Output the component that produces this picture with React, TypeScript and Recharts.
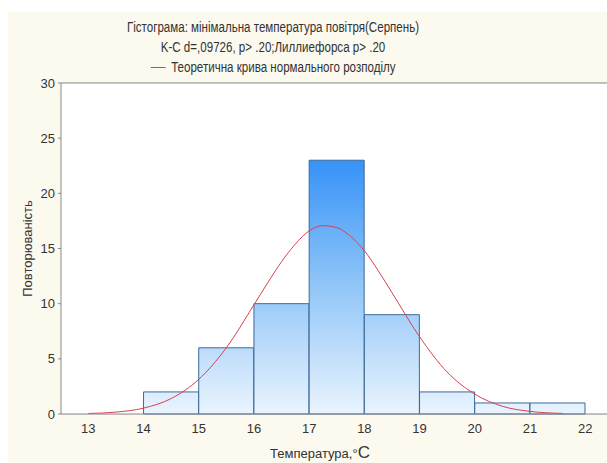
import React from 'react';
import {
  ComposedChart,
  Bar,
  Line,
  XAxis,
  YAxis,
  CartesianGrid,
  ReferenceLine,
} from 'recharts';

// histogram bins (bin centre, count)
const binCenters = [14.5, 15.5, 16.5, 17.5, 18.5, 19.5, 20.5, 21.5];
const counts = [2, 6, 10, 23, 9, 2, 1, 1];

// theoretical normal curve
const curveX = [13, 13.5, 14, 14.5, 15, 15.5, 16, 16.25, 16.5, 16.75, 17, 17.25, 17.5, 17.75, 18, 18.25, 18.5, 19, 19.5, 20, 20.5, 21, 21.6];
const curveY = [0.05, 0.17, 0.53, 1.4, 3.14, 6.0, 9.9, 11.9, 13.8, 15.4, 16.6, 17.07, 16.9, 16.1, 14.8, 13.0, 11.0, 7.0, 3.8, 1.8, 0.7, 0.24, 0.05];

const xTicks = [13, 14, 15, 16, 17, 18, 19, 20, 21, 22];
const yTicks = [0, 5, 10, 15, 20, 25, 30];
const xDomain = [12.505, 22.395];

const barData = binCenters.map((x, i) => ({ x, count: counts[i] }));
const curveData = curveX.map((x, i) => ({ x, y: curveY[i] }));

const W = 599;
const H = 451;
const M = { top: 71, right: 0, left: 0, bottom: 0 };
const Y_AXIS_W = 53;
const X_AXIS_H = 49;
const TITLE_CX = 265;

const FONT = '"Liberation Sans", Arial, sans-serif';
const TEXT = '#333';

function XLabel(props: any) {
  const { viewBox } = props;
  const cx = viewBox.x + viewBox.width / 2 - 14;
  return (
    <text x={cx} y={viewBox.y + viewBox.height - 5} textAnchor="middle" fontFamily={FONT} fontSize={13} fill={TEXT}>
      Температура,°<tspan fontSize={17}>C</tspan>
    </text>
  );
}

function YLabel(props: any) {
  const { viewBox } = props;
  const cx = 19;
  const cy = viewBox.y + viewBox.height / 2;
  return (
    <text x={cx} y={cy} transform={`rotate(-90 ${cx} ${cy})`} textAnchor="middle" dominantBaseline="central" fontFamily={FONT} fontSize={13} fill={TEXT}>
      Повторюваність
    </text>
  );
}

export default function App() {
  return (
    <div style={{ position: 'absolute', left: 0, top: 0, width: 607, height: 463, background: '#fff' }}>
      <div style={{ position: 'absolute', left: 8, top: 12, width: W, height: H, background: '#fcf9ee', overflow: 'hidden' }}>
        <div style={{ position: 'absolute', left: 0, top: 5, width: TITLE_CX * 2, textAlign: 'center', fontFamily: FONT, fontSize: 14, color: TEXT, lineHeight: '20px', transform: 'scaleX(0.826)', transformOrigin: `${TITLE_CX}px 0`, zIndex: 1 }}>
          <div>Гістограма: мінімальна температура повітря(Серпень)</div>
          <div>K-C d=,09726, p&gt; .20;Лиллиефорса p&gt; .20</div>
          <div style={{ display: 'flex', justifyContent: 'center', alignItems: 'center' }}>
            <span style={{ display: 'inline-block', width: 18, borderTop: '1px solid #d9404e', marginRight: 7 }} />
            Теоретична крива нормального розподілу
          </div>
        </div>
        <ComposedChart width={W} height={H} data={barData} margin={M} barCategoryGap={0} barGap={0} style={{ position: 'absolute', left: 0, top: 0 }}>
          <defs>
            <linearGradient id="barFill" gradientUnits="userSpaceOnUse" x1="0" y1="147" x2="0" y2="402">
              <stop offset="0%" stopColor="#3592f7" />
              <stop offset="45%" stopColor="#88c1f7" />
              <stop offset="100%" stopColor="#eaf4fe" />
            </linearGradient>
          </defs>
          <rect x={Y_AXIS_W} y={M.top} width={W - Y_AXIS_W} height={H - M.top - X_AXIS_H} fill="#fff" />
          <CartesianGrid horizontal vertical={false} stroke="#e2e2e2" />
          <XAxis
            dataKey="x"
            type="number"
            domain={xDomain}
            allowDataOverflow
            ticks={xTicks}
            height={X_AXIS_H}
            tickLine={false}
            tickMargin={4}
            axisLine={{ stroke: '#8a8a8a' }}
            tick={{ fontFamily: FONT, fontSize: 13, fill: TEXT }}
            label={<XLabel />}
          />
          <XAxis xAxisId="bins" dataKey="x" type="number" domain={xDomain} allowDataOverflow hide />
          <YAxis
            type="number"
            domain={[0, 30]}
            ticks={yTicks}
            width={Y_AXIS_W}
            tickLine={{ stroke: '#8a8a8a' }}
            tickSize={3}
            tickMargin={3}
            axisLine={{ stroke: '#8a8a8a' }}
            tick={{ fontFamily: FONT, fontSize: 13, fill: TEXT }}
            label={<YLabel />}
          />
          <ReferenceLine y={30} stroke="#8a8a8a" />
          <Bar xAxisId="bins" dataKey="count" fill="url(#barFill)" stroke="#3d6a9a" strokeWidth={1} isAnimationActive={false} />
          <Line data={curveData} dataKey="y" type="monotone" stroke="#d9404e" strokeWidth={1} dot={false} isAnimationActive={false} />
        </ComposedChart>
      </div>
    </div>
  );
}
